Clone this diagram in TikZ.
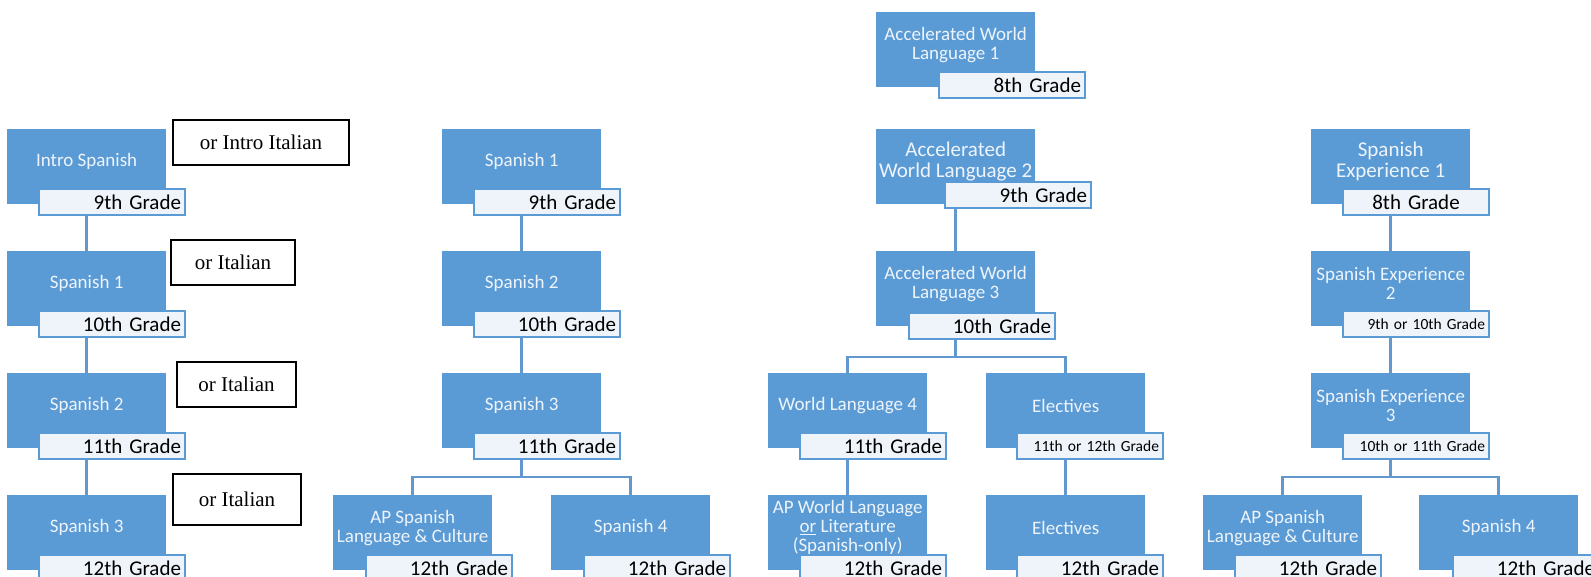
\documentclass[tikz,border=0pt]{standalone}
\usepackage{fontspec}
\setmainfont{Carlito}
\newfontfamily\orserif{Liberation Serif}
\usetikzlibrary{positioning}
\definecolor{boxblue}{HTML}{5B9BD5}
\definecolor{gradefill}{HTML}{EFF4FB}
\definecolor{linkblue}{HTML}{6398CE}
\definecolor{textwhite}{HTML}{EEF4FB}

\begin{document}
\begin{tikzpicture}[x=1pt, y=-1pt,
    course/.style = {fill=boxblue, anchor=north west, minimum width=159pt, minimum height=75pt, inner sep=0pt},
    coursetext/.style = {text=textwhite, align=center, inner sep=0pt, font=\fontsize{19}{19}\selectfont},
    bigtext/.style = {coursetext, font=\fontsize{21}{20.5}\selectfont},
    grade/.style = {draw=boxblue, line width=2pt, fill=gradefill, anchor=north west, minimum height=26pt,
                    text width=138pt, inner xsep=4pt, inner ysep=0pt, align=right, font=\fontsize{21}{21}\selectfont},
    smallgrade/.style = {grade, font=\fontsize{15.5}{15.5}\selectfont},
    orbox/.style = {draw=black, line width=1.5pt, inner sep=0pt, font=\orserif\fontsize{21}{21}\selectfont},
    link/.style = {draw=linkblue, line width=2.5pt}]
    \useasboundingbox (0,0) rectangle (1591,577);

    \begin{scope}
        \node[course] at (7,129) (IS) {};
        \node[coursetext] at ([yshift=5pt]IS.center) (ISt) {Intro Spanish};
        \node[grade] at (38,188) (ISg) {9th Grade};
        \node[course] at (7,251) (SA1) {};
        \node[coursetext] at ([yshift=5pt]SA1.center) (SA1t) {Spanish 1};
        \node[grade] at (38,310) (SA1g) {10th Grade};
        \node[course] at (7,373) (SA2) {};
        \node[coursetext] at ([yshift=5pt]SA2.center) (SA2t) {Spanish 2};
        \node[grade] at (38,432) (SA2g) {11th Grade};
        \node[course] at (7,495) (SA3) {};
        \node[coursetext] at ([yshift=5pt]SA3.center) (SA3t) {Spanish 3};
        \node[grade] at (38,554) (SA3g) {12th Grade};

        \node[orbox, minimum width=176pt, minimum height=45pt] at (261,142.5) (OR1) {or Intro Italian};
        \node[orbox, minimum width=124pt, minimum height=45pt] at (233,262.5) (OR2) {or Italian};
        \node[orbox, minimum width=119pt, minimum height=45pt] at (236.5,384.5) (OR3) {or Italian};
        \node[orbox, minimum width=128pt, minimum height=51pt] at (237,499.5) (OR4) {or Italian};

        \draw[link] (IS |- ISg.south) -- (SA1.north);
        \draw[link] (SA1 |- SA1g.south) -- (SA2.north);
        \draw[link] (SA2 |- SA2g.south) -- (SA3.north);
    \end{scope}

    \begin{scope}
        \node[course] at (442,129) (SB1) {};
        \node[coursetext] at ([yshift=5pt]SB1.center) (SB1t) {Spanish 1};
        \node[grade] at (473,188) (SB1g) {9th Grade};
        \node[course] at (442,251) (SB2) {};
        \node[coursetext] at ([yshift=5pt]SB2.center) (SB2t) {Spanish 2};
        \node[grade] at (473,310) (SB2g) {10th Grade};
        \node[course] at (442,373) (SB3) {};
        \node[coursetext] at ([yshift=5pt]SB3.center) (SB3t) {Spanish 3};
        \node[grade] at (473,432) (SB3g) {11th Grade};
        \node[course] at (333,495) (APL) {};
        \node[coursetext] at ([yshift=5pt]APL.center) (APLt) {AP Spanish\\Language \& Culture};
        \node[grade] at (365,554) (APLg) {12th Grade};
        \node[course] at (551,495) (SB4) {};
        \node[coursetext] at ([yshift=5pt]SB4.center) (SB4t) {Spanish 4};
        \node[grade] at (583,554) (SB4g) {12th Grade};

        \draw[link] (SB1 |- SB1g.south) -- (SB2.north);
        \draw[link] (SB2 |- SB2g.south) -- (SB3.north);
        \draw[link] (SB3 |- SB3g.south) -- ++(0,17) coordinate (FB) -| (APL.north);
        \draw[link] (FB) -| (SB4.north);
    \end{scope}

    \begin{scope}
        \node[course] at (876,12) (AW1) {};
        \node[coursetext] at ([yshift=5pt]AW1.center) (AW1t) {Accelerated World\\Language 1};
        \node[grade] at (938,71) (AW1g) {8th Grade};
        \node[course] at (876,129) (AW2) {};
        \node[bigtext] at ([yshift=5pt]AW2.center) (AW2t) {Accelerated\\World Language 2};
        \node[grade] at (944,181) (AW2g) {9th Grade};
        \node[course] at (876,251) (AW3) {};
        \node[coursetext] at ([yshift=5pt]AW3.center) (AW3t) {Accelerated World\\Language 3};
        \node[grade] at (908,312) (AW3g) {10th Grade};
        \node[course] at (768,373) (WL4) {};
        \node[coursetext] at ([yshift=5pt]WL4.center) (WL4t) {World Language 4};
        \node[grade] at (799,432) (WL4g) {11th Grade};
        \node[course] at (986,373) (EL1) {};
        \node[coursetext] at ([yshift=5pt]EL1.center) (EL1t) {Electives};
        \node[smallgrade] at (1016,432) (EL1g) {11th or 12th Grade};
        \node[course] at (768,495) (APW) {};
        \node[coursetext] at ([yshift=5pt]APW.center) (APWt) {AP World Language\\\underline{or} Literature\\(Spanish-only)};
        \node[grade] at (799,554) (APWg) {12th Grade};
        \node[course] at (986,495) (EL2) {};
        \node[coursetext] at ([yshift=5pt]EL2.center) (EL2t) {Electives};
        \node[grade] at (1016,554) (EL2g) {12th Grade};

        \draw[link] (AW2 |- AW2g.south) -- (AW3.north);
        \draw[link] (AW3 |- AW3g.south) -- ++(0,17) coordinate (FC) -| (WL4.north);
        \draw[link] (FC) -| (EL1.north);
        \draw[link] (WL4 |- WL4g.south) -- (APW.north);
        \draw[link] (EL1 |- EL1g.south) -- (EL2.north);
    \end{scope}

    \begin{scope}
        \node[course] at (1311,129) (SE1) {};
        \node[bigtext, font=\fontsize{21}{20.7}\selectfont] at ([yshift=5pt]SE1.center) (SE1t) {Spanish\\Experience 1};
        \node[grade, align=center] at (1342,188) (SE1g) {8th Grade};
        \node[course] at (1311,251) (SE2) {};
        \node[coursetext] at ([yshift=5pt]SE2.center) (SE2t) {Spanish Experience\\2};
        \node[smallgrade] at (1342,310) (SE2g) {9th or 10th Grade};
        \node[course] at (1311,373) (SE3) {};
        \node[coursetext] at ([yshift=5pt]SE3.center) (SE3t) {Spanish Experience\\3};
        \node[smallgrade] at (1342,432) (SE3g) {10th or 11th Grade};
        \node[course] at (1203,495) (APS) {};
        \node[coursetext] at ([yshift=5pt]APS.center) (APSt) {AP Spanish\\Language \& Culture};
        \node[grade] at (1234,554) (APSg) {12th Grade};
        \node[course] at (1419,495) (SC4) {};
        \node[coursetext] at ([yshift=5pt]SC4.center) (SC4t) {Spanish 4};
        \node[grade] at (1452,554) (SC4g) {12th Grade};

        \draw[link] (SE1 |- SE1g.south) -- (SE2.north);
        \draw[link] (SE2 |- SE2g.south) -- (SE3.north);
        \draw[link] (SE3 |- SE3g.south) -- ++(0,17) coordinate (FD) -| (APS.north);
        \draw[link] (FD) -| (SC4.north);
    \end{scope}

\end{tikzpicture}
\end{document}
